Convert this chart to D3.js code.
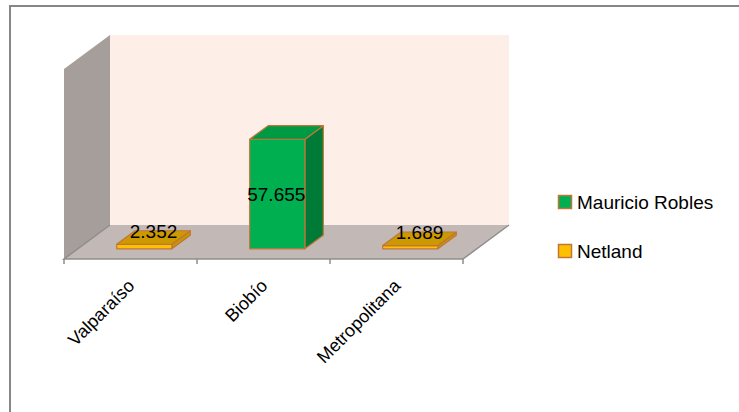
<!DOCTYPE html>
<html>
<head>
<meta charset="utf-8">
<script src="https://cdn.jsdelivr.net/npm/d3@7"></script>
<style>
  body { margin: 0; background: #fff; }
  svg { display: block; font-family: "Liberation Sans", Arial, sans-serif; }
</style>
</head>
<body>
<svg id="chart" width="739" height="412"></svg>
<script>
// data
const categories = ["Valparaíso", "Biobío", "Metropolitana"];
const candidates = ["Netland", "Mauricio Robles", "Netland"];
const values = [2.352, 57.655, 1.689];
const labels = ["2.352", "57.655", "1.689"];
const seriesNames = ["Mauricio Robles", "Netland"];

const svg = d3.select("#chart");

// outer chart border (runs off the right/bottom of the picture)
svg.append("rect")
    .attr("x", 10).attr("y", 6)
    .attr("width", 800).attr("height", 500)
    .attr("fill", "none")
    .attr("stroke", "#868686")
    .attr("stroke-width", 2);

let xScale = d3.scaleBand()
    .domain(categories)
    .range([64, 463])
    .paddingInner(0.585)
    .paddingOuter(0.2925);

let yScale = d3.scaleLinear()
    .domain([0, 100])
    .range([259, 69]);

// oblique depth vector
const depthX = 46, depthY = -34;

function P(x, v, z) {
    return [x + z * depthX, yScale(v) + z * depthY];
}

function poly(pts) {
    return pts.map(function(p) { return p.join(','); }).join(' ');
}

const colours = {
    "Mauricio Robles": { front: "#00B050", side: "#007A37", top: "#009A44" },
    "Netland": { front: "#FFC000", side: "#C99400", top: "#CC9A00" }
};
const edge = "#C0763A";

let xMin = 64, xMax = 463;

// walls and floor
svg.append("polygon")
    .attr("points", poly([P(xMin, 0, 0), P(xMin, 0, 1), P(xMin, 100, 1), P(xMin, 100, 0)]))
    .attr("fill", "#A59E9B");
svg.append("polygon")
    .attr("points", poly([P(xMin, 0, 1), P(xMax, 0, 1), P(xMax, 100, 1), P(xMin, 100, 1)]))
    .attr("fill", "#FDEEE8");
svg.append("polygon")
    .attr("points", poly([P(xMin, 0, 0), P(xMax, 0, 0), P(xMax, 0, 1), P(xMin, 0, 1)]))
    .attr("fill", "#C2B9B6");

// floor edges
svg.append("polyline")
    .attr("points", poly([P(xMin, 0, 1), P(xMin, 0, 0), P(xMax, 0, 0), P(xMax, 0, 1)]))
    .attr("fill", "none")
    .attr("stroke", "#8E8E8E")
    .attr("stroke-width", 1.5);

// category ticks
let ticks = d3.range(categories.length + 1).map(function(i) {
    return xMin + i * xScale.step();
});
svg.selectAll(".tick")
    .data(ticks)
    .enter()
    .append("line")
    .attr("x1", function(d) { return d; })
    .attr("x2", function(d) { return d; })
    .attr("y1", yScale(0))
    .attr("y2", yScale(0) + 5)
    .attr("stroke", "#8E8E8E")
    .attr("stroke-width", 1.5);

// bars
const z0 = 0.3, z1 = 0.7;
let bars = svg.selectAll(".bar")
    .data(categories.map(function(c, i) {
        return { cat: c, name: candidates[i], value: values[i], label: labels[i] };
    }))
    .enter()
    .append("g");

bars.each(function(d) {
    let g = d3.select(this);
    let x0 = xScale(d.cat), x1 = x0 + xScale.bandwidth();
    let c = colours[d.name];
    g.append("polygon")
        .attr("points", poly([P(x1, 0, z0), P(x1, 0, z1), P(x1, d.value, z1), P(x1, d.value, z0)]))
        .attr("fill", c.side).attr("stroke", edge).attr("stroke-width", 1.2).attr("stroke-linejoin", "round");
    g.append("polygon")
        .attr("points", poly([P(x0, 0, z0), P(x1, 0, z0), P(x1, d.value, z0), P(x0, d.value, z0)]))
        .attr("fill", c.front).attr("stroke", edge).attr("stroke-width", 1.2).attr("stroke-linejoin", "round");
    g.append("polygon")
        .attr("points", poly([P(x0, d.value, z0), P(x1, d.value, z0), P(x1, d.value, z1), P(x0, d.value, z1)]))
        .attr("fill", c.top).attr("stroke", edge).attr("stroke-width", 1.2).attr("stroke-linejoin", "round");
});

// data labels
bars.append("text")
    .attr("x", function(d) {
        let xc = xScale(d.cat) + xScale.bandwidth() / 2;
        if (yScale(0) - yScale(d.value) > 30) return P(xc, 0, z0)[0] - 1;
        return P(xc, d.value, (z0 + z1) / 2)[0];
    })
    .attr("y", function(d) {
        let xc = xScale(d.cat) + xScale.bandwidth() / 2;
        if (yScale(0) - yScale(d.value) > 30) return P(xc, d.value / 2, z0)[1] + 7;
        return P(xc, d.value, (z0 + z1) / 2)[1];
    })
    .attr("text-anchor", "middle")
    .attr("font-size", 19)
    .attr("fill", "#000")
    .text(function(d) { return d.label; });

// category labels
svg.selectAll(".catLabel")
    .data(categories)
    .enter()
    .append("text")
    .attr("transform", function(d) {
        let xc = xScale(d) + xScale.bandwidth() / 2;
        return "translate(" + (xc + 5) + "," + 287 + ") rotate(-45)";
    })
    .attr("text-anchor", "end")
    .attr("font-size", 18)
    .attr("fill", "#000")
    .text(function(d) { return d; });

// legend
let legend = svg.selectAll(".legend")
    .data(seriesNames)
    .enter()
    .append("g")
    .attr("transform", function(d, i) { return "translate(558," + (195 + i * 49) + ")"; });

legend.append("rect")
    .attr("x", 0.5).attr("y", 0.5)
    .attr("width", 13).attr("height", 13)
    .attr("fill", function(d) { return colours[d].front; })
    .attr("stroke", edge)
    .attr("stroke-width", 1.5);

legend.append("text")
    .attr("x", 19)
    .attr("y", 14)
    .attr("font-size", 19)
    .attr("fill", "#000")
    .text(function(d) { return d; });
</script>
</body>
</html>
